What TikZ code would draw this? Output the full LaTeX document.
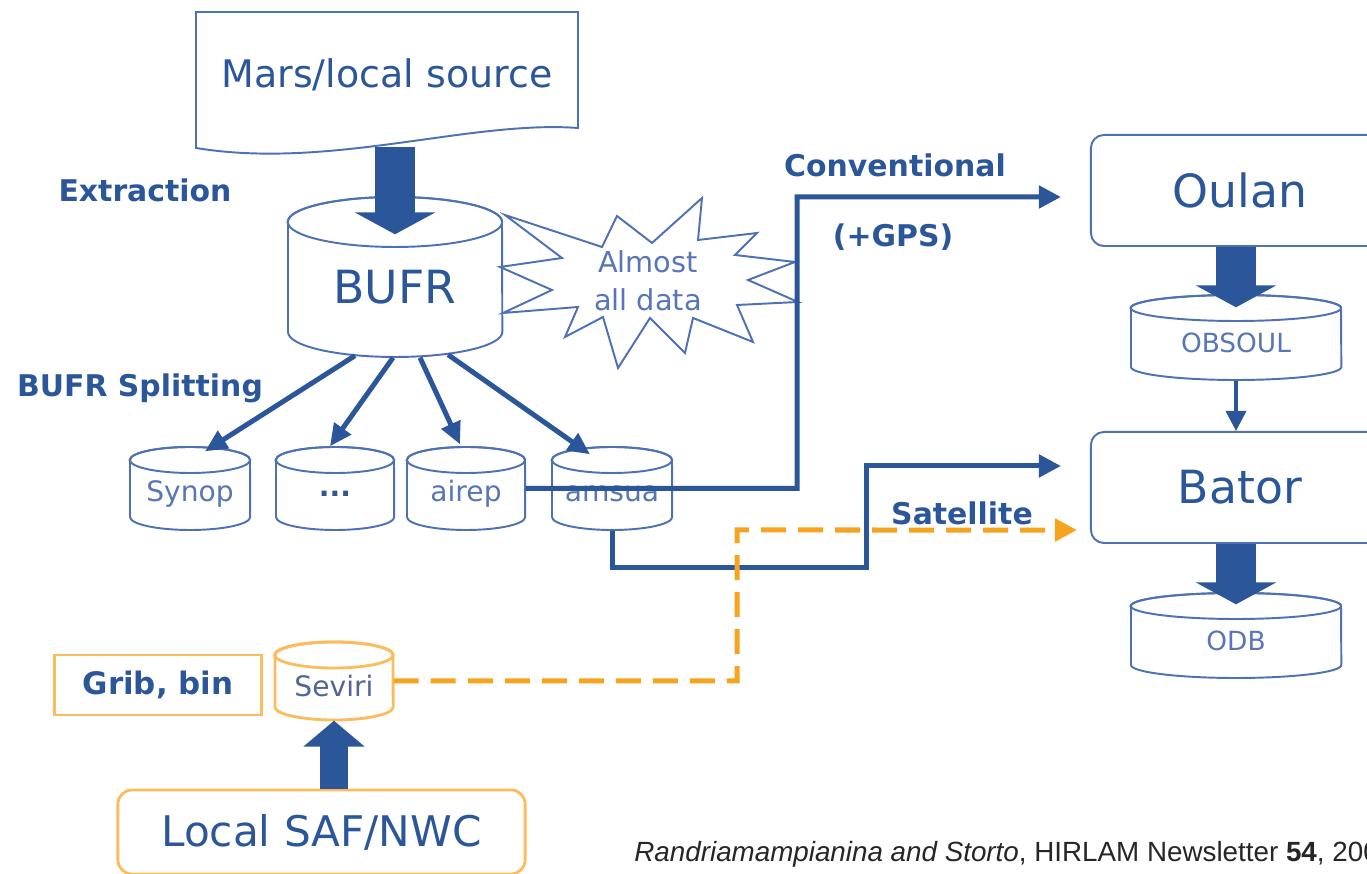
\documentclass[tikz,border=0pt]{standalone}
\usepackage{fontspec}
\setmainfont{DejaVu Sans}
\newfontfamily\citefont{Liberation Sans}
\usepackage{tikz}
\usetikzlibrary{positioning,arrows.meta}
\usepackage{xcolor}

\definecolor{dkblue}{RGB}{43,87,154}
\definecolor{lnblue}{RGB}{78,112,180}
\definecolor{ltblue}{RGB}{88,118,182}
\definecolor{grblue}{RGB}{82,102,150}
\definecolor{satorange}{RGB}{246,164,32}
\definecolor{boxorange}{RGB}{250,188,92}

\newcommand{\fsz}[2]{\fontsize{#1}{#2}\selectfont}

% database drum: name, style, centre x, top y, width, height, ellipse radius, label
\newcommand{\dbcyl}[8]{%
  \pgfmathsetmacro{\cylL}{#3-#5/2}%
  \pgfmathsetmacro{\cylR}{#3+#5/2}%
  \pgfmathsetmacro{\cylT}{#4+#7}%
  \pgfmathsetmacro{\cylB}{#4+#6-#7}%
  \pgfmathsetmacro{\cylM}{(\cylT+\cylB)/2+0.4*#7}%
  \filldraw[fill=white,#2] (\cylL,\cylT) -- (\cylL,\cylB)
    arc[start angle=180,end angle=360,x radius=#5*0.005cm,y radius=#7*0.01cm]
    -- (\cylR,\cylT)
    arc[start angle=0,end angle=180,x radius=#5*0.005cm,y radius=#7*0.01cm] -- cycle;
  \draw[#2] (#3,\cylT) ellipse[x radius=#5*0.005cm,y radius=#7*0.01cm];
  \node[inner sep=0,minimum width=#5*0.01cm,minimum height=#6*0.01cm] (#1) at (#3,#4+#6/2) {};
  \node[#2,draw=none] at (#3,\cylM) {#8};
}

\tikzset{
  cylblue/.style={draw=lnblue,line width=0.55pt,text=ltblue},
  cylorange/.style={draw=boxorange,line width=0.8pt,text=grblue},
  procbox/.style={draw=lnblue,line width=0.55pt,rounded corners=0.13cm,minimum width=2.98cm,minimum height=1.11cm,text=dkblue,font=\fsz{13}{15}},
  lbl/.style={text=dkblue,font=\bfseries\fsz{8.5}{10}},
  fatarrow/.style={draw=dkblue,line width=0.4cm,-{Triangle[width=0.8cm,length=0.22cm]}},
  smallfat/.style={draw=dkblue,line width=0.28cm,-{Triangle[width=0.6cm,length=0.26cm]}},
  split/.style={draw=dkblue,line width=0.05cm,-{Triangle[width=0.2cm,length=0.22cm]}},
  link/.style={draw=dkblue,line width=0.05cm,-{Triangle[width=0.22cm,length=0.22cm]}},
  satdash/.style={draw=satorange,line width=0.05cm,dash pattern=on 0.25cm off 0.12cm,-{Triangle[width=0.22cm,length=0.22cm]}},
}

\begin{document}
\begin{tikzpicture}[x=0.01cm,y=-0.01cm]
\fill[white] (0,0) rectangle (1367,874);
\useasboundingbox (0,0) rectangle (1367,874);

% source document
\draw[lnblue,line width=0.55pt,fill=white] (196,12) -- (578,12) -- (578,128)
  .. controls (470,120) and (330,170) .. (196,148) -- cycle;
\node[inner sep=0,minimum width=3.82cm,minimum height=1.26cm,text=dkblue,font=\fsz{10.8}{13}] (mars) at (387,75) {Mars/local source};

\dbcyl{bufr}{cylblue,text=dkblue,font=\fsz{13}{15}}{395}{197}{214}{160}{25}{BUFR}

% burst
\draw[lnblue,line width=0.55pt,fill=white] (505,215) -- (602,247) -- (617,216) -- (652,243) -- (702,198)
  -- (698,240) -- (757,233) -- (735,255) -- (795,262) -- (748,280) -- (798,302) -- (737,305)
  -- (753,342) -- (693,318) -- (685,353) -- (650,318) -- (618,368) -- (603,317) -- (565,337)
  -- (578,307) -- (503,313) -- (552,290) -- (500,267) -- (562,258) -- cycle;
\node[text=ltblue,align=center,font=\fsz{8.2}{10.8}] (almost) at (648,281) {Almost\\all data};

\draw[fatarrow] ([yshift=-0.08cm]mars.south -| bufr.north) -- ([yshift=-0.38cm]bufr.north);

\node[lbl] (extract) at (145,190) {Extraction};
\node[lbl] (splitting) at (140,388) {BUFR Splitting};

\dbcyl{synop}{cylblue,font=\fsz{8}{10}}{190}{447}{120}{83}{13}{Synop}
\dbcyl{dots}{cylblue,text=dkblue,font=\bfseries\fsz{8}{10}}{335}{447}{118}{83}{13}{...}
\dbcyl{airep}{cylblue,font=\fsz{8}{10}}{466}{447}{118}{83}{13}{airep}
\dbcyl{amsua}{cylblue,font=\fsz{8}{10}}{612}{447}{120}{83}{13}{amsua}

\draw[split] ([xshift=-0.4cm,yshift=0.02cm]bufr.south) -- ([xshift=0.15cm,yshift=-0.05cm]synop.north);
\draw[split] ([xshift=-0.02cm]bufr.south) -- ([xshift=-0.05cm]dots.north);
\draw[split] ([xshift=0.25cm]bufr.south) -- ([xshift=-0.06cm,yshift=0.02cm]airep.north);
\draw[split] ([xshift=0.53cm,yshift=0.03cm]bufr.south) -- ([xshift=-0.22cm,yshift=-0.08cm]amsua.north);

% processing chain
\node[procbox] (oulan) at (1240,190.5) {Oulan};
\dbcyl{obsoul}{cylblue,font=\fsz{7.5}{9}}{1236}{295}{210}{85}{13}{OBSOUL}
\node[procbox] (bator) at (1240,487.5) {Bator};
\dbcyl{odb}{cylblue,font=\fsz{7.5}{9}}{1236}{593}{210}{85}{13}{ODB}

\draw[fatarrow] (oulan.south -| obsoul.north) -- ([yshift=-0.13cm]obsoul.north);
\draw[draw=dkblue,line width=0.035cm,-{Triangle[width=0.2cm,length=0.2cm]}] (obsoul.south) -- (bator.north -| obsoul.south);
\draw[fatarrow] (bator.south -| odb.north) -- ([yshift=-0.12cm]odb.north);

% conventional and satellite routes
\coordinate (convbend) at (797,197);
\coordinate (convend) at ([shift={(-0.29cm,-0.065cm)}]oulan.west);
\draw[link] (airep.east) -| (convbend) -- (convend);
\node[lbl] (conv) at (895,165) {Conventional};
\node[lbl] (gps) at (893,237) {(+GPS)};

\coordinate (satbend) at (866,568);
\coordinate (satend) at ([shift={(-0.29cm,0.215cm)}]bator.west);
\draw[link] (amsua.south) |- (satbend) |- (satend);
\node[lbl] (sat) at (962,513) {Satellite};

% local products
\node[draw=boxorange,line width=0.8pt,minimum width=2.07cm,minimum height=0.6cm,lbl,font=\bfseries\fsz{8.8}{10}] (grib) at (158,685) {Grib, bin};
\dbcyl{seviri}{cylorange,font=\fsz{8}{10}}{334}{642}{118}{78}{13}{Seviri}
\node[draw=boxorange,line width=0.8pt,rounded corners=0.14cm,minimum width=4.07cm,minimum height=0.84cm,text=dkblue,font=\fsz{12}{14}] (localsaf) at (321.5,832) {Local SAF/NWC};
\draw[smallfat] (localsaf.north -| seviri.south) -- (seviri.south);

\coordinate (orbend) at (737,530);
\coordinate (orend) at ([shift={(-0.13cm,-0.425cm)}]bator.west);
\draw[satdash] (seviri.east) -| (orbend) -- (orend);

\node[anchor=base west,text=black!85,font=\citefont\fsz{7.9}{9}] (cite) at (622,862) {\textit{Randriamampianina and Storto}, HIRLAM Newsletter \textbf{54}, 2008};
\end{tikzpicture}
\end{document}
